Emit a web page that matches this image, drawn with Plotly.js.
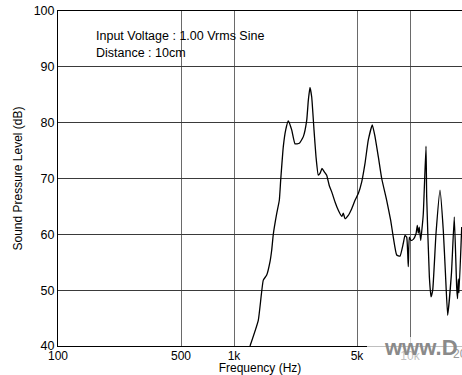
<!DOCTYPE html>
<html>
<head>
<meta charset="utf-8">
<script src="https://cdn.plot.ly/plotly-3.0.1.min.js"></script>
<style>html,body{margin:0;padding:0;background:#fff;}#chart{width:462px;height:375px;}</style>
</head>
<body>
<div id="chart"></div>
<script>
// Frequency (Hz) and sound pressure level (dB)
const freqHz = [1233, 1374, 1467, 1534, 1602, 1638, 1672, 1748, 1809, 1842, 1906, 1967, 2034, 2127, 2222, 2350, 2477, 2589, 2644, 2703, 2764, 2848, 2924, 3013, 3081, 3162, 3259, 3363, 3480, 3591, 3750, 3915, 4093, 4178, 4272, 4461, 4665, 4870, 5085, 5317, 5551, 5796, 6108, 6326, 6606, 6906, 7371, 7768, 8035, 8402, 8772, 9160, 9367, 9578, 9779, 9908, 10131, 10443, 10817, 11003, 11148, 11292, 11502, 11654, 11900, 12330, 12440, 12880, 13160, 13460, 14050, 14810, 15460, 15900, 16370, 17200, 17850, 18420, 18620, 18810, 18980, 19670];
const splDb  = [40.0, 44.6, 51.8, 52.7, 55.1, 57.2, 60.0, 63.7, 66.1, 69.7, 75.7, 78.7, 80.3, 78.7, 76.2, 76.3, 77.5, 80.4, 84.0, 86.3, 84.6, 78.7, 73.9, 70.6, 70.9, 71.8, 71.2, 70.6, 68.7, 67.6, 65.8, 64.3, 63.2, 63.8, 62.8, 63.4, 64.6, 66.1, 67.3, 69.4, 72.7, 76.9, 79.6, 77.5, 73.9, 70.0, 66.1, 62.5, 59.5, 56.3, 56.1, 58.4, 59.8, 59.5, 54.2, 59.5, 58.9, 59.1, 60.1, 61.6, 60.2, 61.3, 58.9, 60.5, 63.7, 75.8, 66.7, 52.4, 48.8, 50.0, 60.1, 67.9, 60.7, 53.0, 45.5, 53.0, 63.1, 50.5, 48.5, 52.0, 49.5, 61.3];

const xTickVals = [100, 500, 1000, 5000, 10000];
const xTickText = ['100', '500', '1k', '5k', '10k'];
const xEdgeTickLabel = '20k';
const yTickVals = [40, 50, 60, 70, 80, 90, 100];
const noteLines = ['Input Voltage : 1.00 Vrms Sine', 'Distance : 10cm'];

const font = 'Liberation Sans, Arial, sans-serif';

const data = [{
  x: freqHz, y: splDb, type: 'scatter', mode: 'lines',
  line: {color: '#000', width: 1.3, shape: 'spline', smoothing: 0.4},
  hoverinfo: 'skip', cliponaxis: true
}];

const layout = {
  width: 462, height: 375,
  margin: {l: 58, r: 0, t: 11, b: 29},
  paper_bgcolor: '#fff', plot_bgcolor: '#fff',
  showlegend: false,
  font: {family: font, size: 12.5, color: '#000'},
  xaxis: {
    type: 'log', range: [2, 2 + 404 / 176],
    tickvals: xTickVals, ticktext: xTickText, ticks: '',
    ticklabelstandoff: -1,
    showgrid: true, gridcolor: '#6a6a6a', gridwidth: 1,
    showline: true, linecolor: '#000', linewidth: 1, mirror: true,
    zeroline: false, automargin: false,
    tickfont: {family: font, size: 12, color: '#000'},
    title: {text: 'Frequency (Hz)', font: {family: font, size: 12, color: '#000'}, standoff: 8}
  },
  yaxis: {
    range: [40, 100], tickvals: yTickVals, ticks: '',
    showgrid: true, gridcolor: '#3a3a3a', gridwidth: 1,
    showline: true, linecolor: '#000', linewidth: 1,
    zeroline: false, automargin: false,
    tickfont: {family: font, size: 12.5, color: '#000'},
    title: {text: 'Sound Pressure Level (dB)', font: {family: font, size: 12, color: '#000'}, standoff: 8}
  },
  shapes: [{
    type: 'rect', xref: 'paper', yref: 'paper', layer: 'above',
    x0: (367 - 58) / 404, x1: 1.01, y0: 1 - (337 - 11) / 335, y1: 1 - (362 - 11) / 335,
    fillcolor: 'rgba(255,255,255,0.75)', line: {width: 0}
  }],
  annotations: [
    {xref: 'paper', yref: 'paper', x: (94 - 58) / 404, y: 1 - (36.5 - 11) / 335, xanchor: 'left', yanchor: 'middle',
     text: noteLines[0], showarrow: false, font: {family: font, size: 12.5, color: '#000'}},
    {xref: 'paper', yref: 'paper', x: (94 - 58) / 404, y: 1 - (52.5 - 11) / 335, xanchor: 'left', yanchor: 'middle',
     text: noteLines[1], showarrow: false, font: {family: font, size: 12.5, color: '#000'}},
    {xref: 'paper', yref: 'paper', x: (463 - 58) / 404, y: 1 - (354 - 11) / 335, xanchor: 'center', yanchor: 'middle',
     text: xEdgeTickLabel, showarrow: false, font: {family: font, size: 12, color: '#999'}},
    {xref: 'paper', yref: 'paper', x: (382 - 58) / 404, y: 1 - (347 - 11) / 335, xanchor: 'left', yanchor: 'middle',
     text: '<b>www.D</b>', showarrow: false, font: {family: font, size: 22, color: '#8a8a8a'}}
  ]
};

Plotly.newPlot('chart', data, layout, {staticPlot: true, displayModeBar: false});
</script>
</body>
</html>
